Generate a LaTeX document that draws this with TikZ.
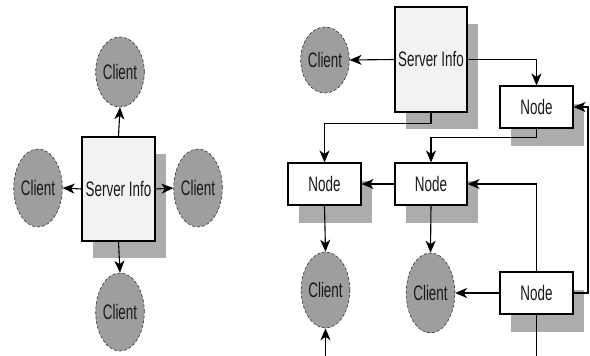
\documentclass[tikz,border=0pt]{standalone}
\usepackage{fontspec}
\newfontfamily\cf[FakeStretch=0.64]{Liberation Sans}
\usetikzlibrary{arrows.meta,shadows,shapes.geometric}
\definecolor{cfill}{RGB}{158,158,158}
\definecolor{shad}{RGB}{172,172,172}
\definecolor{sfill}{RGB}{242,242,242}
\tikzset{
  lbl/.style={font=\cf\fontsize{21}{21}\selectfont, text=black!90, inner sep=0pt},
  client/.style={lbl, ellipse, fill=cfill, draw=black!80, densely dashed, line width=0.6pt},
  server/.style={lbl, rectangle, fill=sfill, draw=black, line width=1.1pt,
    minimum width=73pt, minimum height=104pt,
    drop shadow={shadow xshift=11pt, shadow yshift=-17pt, fill=shad, opacity=1}},
  nodebox/.style={lbl, rectangle, fill=white, draw=black, line width=1.1pt,
    minimum width=73pt, minimum height=42pt,
    drop shadow={shadow xshift=11pt, shadow yshift=-18pt, fill=shad, opacity=1}},
  conn/.style={draw=black, line width=1.1pt},
  arr/.style={conn, -{Stealth[length=12pt,width=10pt,inset=3.5pt]}}
}
\begin{document}
\begin{tikzpicture}[x=1pt,y=-1pt]
\useasboundingbox (0,0) rectangle (590,356);
% left diagram
\node[server] (si1) at (118.5,189) {Server Info};
\node[client, minimum width=46pt, minimum height=70pt] (ct) at (120,72) {Client};
\node[client, minimum width=46pt, minimum height=78pt] (cl) at (38,188) {Client};
\node[client, minimum width=46pt, minimum height=78pt] (cr) at (198,188) {Client};
\node[client, minimum width=45pt, minimum height=78pt] (cb) at (120,312) {Client};
\draw[arr] (si1.north) -- (ct.south);
\draw[arr] (si1.west) -- (cl.east);
\draw[arr] (si1.east) -- (cr.west);
\draw[arr] (si1.south) -- (cb.north);
% right diagram
\node[server, minimum width=72pt, minimum height=105pt] (si2) at (431,59.5) {Server Info};
\node[client, minimum width=46pt, minimum height=66pt] (c5) at (325,60) {Client};
\node[nodebox] (n1) at (536.5,107) {Node};
\node[nodebox] (n2) at (324.5,184) {Node};
\node[nodebox, minimum width=72pt] (n3) at (431,184) {Node};
\node[nodebox] (n4) at (536.5,293) {Node};
\node[client, minimum width=45pt, minimum height=76pt] (c6) at (325.5,290) {Client};
\node[client, minimum width=45pt, minimum height=80pt] (c7) at (430.5,293) {Client};
\coordinate (rx) at (588,293);
\coordinate (b1) at (325.5,356);
\coordinate (b2) at (536.5,356);
\draw[arr] (si2.west) -- (c5.east);
\draw[arr] (si2.east) -| (n1.north);
\draw[arr] (si2.south) -- ++(0,11) -| (n2.north);
\draw[arr] (n1.south) -- ++(0,9) -| (n3.north);
\draw[arr] (n3.west) -- (n2.east);
\draw[arr] (n4.north) |- (n3.east);
\draw[arr] (n4.east) -- (rx) |- (n1.east);
\draw[arr] (n2.south) -- (c6.north);
\draw[arr] (n3.south) -- (c7.north);
\draw[arr] (n4.west) -- (c7.east);
\draw[arr] (b1) -- (c6.south);
\draw[conn] (n4.south) -- (b2);
\end{tikzpicture}
\end{document}
